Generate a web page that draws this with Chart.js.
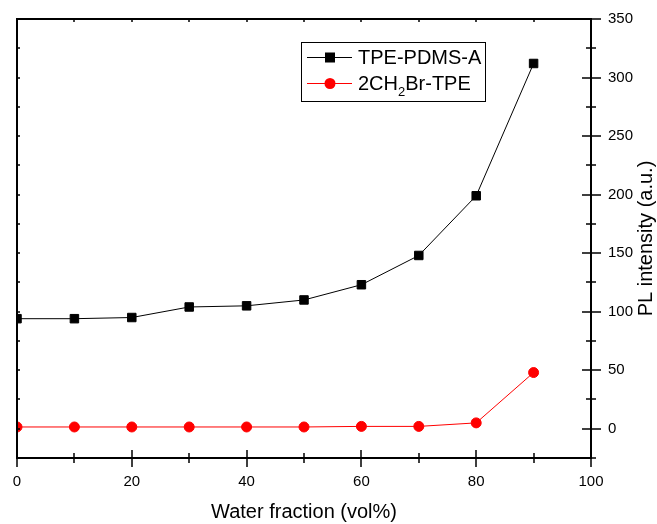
<!DOCTYPE html>
<html>
<head>
<meta charset="utf-8">
<script src="https://cdn.jsdelivr.net/npm/chart.js@4.4.1/dist/chart.umd.min.js"></script>
<style>
html,body{margin:0;padding:0;background:#fff;}
#wrap{width:657px;height:524px;position:relative;}
</style>
</head>
<body>
<div id="wrap"><canvas id="c" width="657" height="524"></canvas></div>
<script>
const waterFraction = [0, 10, 20, 30, 40, 50, 60, 70, 80, 90];
const tpePdmsA = [94, 94, 95, 104, 105, 110, 123, 148, 199, 312];
const ch2brTpe = [1.5, 1.5, 1.5, 1.5, 1.5, 1.5, 2, 2, 5, 48];
const xTicks = [0, 20, 40, 60, 80, 100];
const xMinorTicks = [10, 30, 50, 70, 90];
const yTicks = [0, 50, 100, 150, 200, 250, 300, 350];
const yMinorTicks = [-25, 25, 75, 125, 175, 225, 275, 325];
const seriesNames = ['TPE-PDMS-A', '2CH2Br-TPE'];
const xTitle = 'Water fraction (vol%)';
const yTitle = 'PL intensity (a.u.)';

const FONT = 'Arial, "Liberation Sans", sans-serif';

function pts(xs, ys){ return xs.map((x,i)=>({x:x, y:ys[i]})); }

const framePlugin = {
  id: 'frame',
  afterDraw(chart){
    const ctx = chart.ctx;
    const a = chart.chartArea;
    const xs = chart.scales.x, ys = chart.scales.y;
    ctx.save();
    ctx.strokeStyle = '#000';
    ctx.lineWidth = 2;
    ctx.strokeRect(a.left, a.top, a.right - a.left, a.bottom - a.top);
    ctx.lineWidth = 1.5;
    ctx.beginPath();
    xTicks.forEach(v=>{ const px = Math.round(xs.getPixelForValue(v)); ctx.moveTo(px, a.bottom-8); ctx.lineTo(px, a.bottom+9); });
    xMinorTicks.forEach(v=>{ const px = Math.round(xs.getPixelForValue(v)); ctx.moveTo(px, a.bottom-5); ctx.lineTo(px, a.bottom+5); });
    xTicks.concat(xMinorTicks).forEach(v=>{ const px = Math.round(xs.getPixelForValue(v)); ctx.moveTo(px, a.top); ctx.lineTo(px, a.top+3); });
    yTicks.forEach(v=>{ const py = Math.round(ys.getPixelForValue(v)); ctx.moveTo(a.right-9, py); ctx.lineTo(a.right+10, py); });
    yMinorTicks.forEach(v=>{ const py = Math.round(ys.getPixelForValue(v)); ctx.moveTo(a.right-5, py); ctx.lineTo(a.right+5, py); });
    yTicks.concat(yMinorTicks).forEach(v=>{ const py = Math.round(ys.getPixelForValue(v)); ctx.moveTo(a.left, py); ctx.lineTo(a.left+3, py); });
    ctx.stroke();

    // y title, reading bottom-to-top
    ctx.save();
    ctx.translate(646, (a.top + a.bottom) / 2);
    ctx.rotate(-Math.PI / 2);
    ctx.font = '20px ' + FONT;
    ctx.fillStyle = '#000';
    ctx.textAlign = 'center';
    ctx.textBaseline = 'middle';
    ctx.fillText(yTitle, 0, 0);
    ctx.restore();

    // legend
    const bx = 301, by = 42, bw = 184, bh = 59;
    ctx.lineWidth = 1;
    ctx.strokeStyle = '#000';
    ctx.fillStyle = '#fff';
    ctx.fillRect(bx, by, bw, bh);
    ctx.strokeRect(bx + 0.5, by + 0.5, bw, bh);
    const ds = chart.data.datasets;
    const rows = [57, 83];
    ctx.font = '20px ' + FONT;
    ctx.textBaseline = 'middle';
    ctx.textAlign = 'left';
    rows.forEach((ry, i)=>{
      const d = ds[i];
      ctx.strokeStyle = d.borderColor;
      ctx.lineWidth = 1;
      ctx.beginPath(); ctx.moveTo(307, ry + 0.5); ctx.lineTo(352, ry + 0.5); ctx.stroke();
      ctx.fillStyle = d.pointBackgroundColor;
      if (d.pointStyle === 'rect') {
        ctx.fillRect(325, ry - 4.5, 10, 10);
      } else {
        ctx.beginPath(); ctx.arc(330, ry + 0.5, 5.5, 0, Math.PI*2); ctx.fill();
      }
      ctx.fillStyle = '#000';
      if (i === 0) {
        ctx.fillText(seriesNames[0], 358, ry + 1);
      } else {
        let x = 358;
        const parts = ['2CH', 'Br-TPE'];
        ctx.fillText(parts[0], x, ry + 1);
        x += ctx.measureText(parts[0]).width;
        ctx.font = '13px ' + FONT;
        ctx.fillText('2', x, ry + 9);
        x += ctx.measureText('2').width;
        ctx.font = '20px ' + FONT;
        ctx.fillText(parts[1], x, ry + 1);
      }
    });
    ctx.restore();
  }
};

new Chart(document.getElementById('c'), {
  type: 'line',
  data: {
    datasets: [
      {
        label: seriesNames[0],
        data: pts(waterFraction, tpePdmsA),
        borderColor: '#000',
        backgroundColor: '#000',
        pointBackgroundColor: '#000',
        pointBorderColor: '#000',
        pointStyle: 'rect',
        pointRadius: 6,
        pointBorderWidth: 1,
        borderWidth: 1,
        tension: 0,
        clip: 0
      },
      {
        label: seriesNames[1],
        data: pts(waterFraction, ch2brTpe),
        borderColor: '#ff0000',
        backgroundColor: '#ff0000',
        pointBackgroundColor: '#ff0000',
        pointBorderColor: '#ff0000',
        pointStyle: 'circle',
        pointRadius: 5,
        pointBorderWidth: 1,
        borderWidth: 1,
        tension: 0,
        clip: 0
      }
    ]
  },
  options: {
    responsive: false,
    animation: false,
    devicePixelRatio: 1,
    layout: { padding: { left: 17, top: 19, right: 0, bottom: 0 } },
    plugins: { legend: { display: false }, tooltip: { enabled: false } },
    scales: {
      x: {
        type: 'linear', min: 0, max: 100,
        afterBuildTicks: s => { s.ticks = xTicks.map(v=>({value:v})); },
        afterFit: s => { s.height = 66; s.paddingLeft = 0; s.paddingRight = 0; },
        grid: { display: false, drawTicks: false },
        border: { display: false },
        ticks: { color: '#000', font: { family: FONT, size: 15 }, padding: 15, maxRotation: 0 },
        title: { display: true, text: xTitle, color: '#000', font: { family: FONT, size: 20 }, padding: 0 }
      },
      y: {
        type: 'linear', position: 'right', min: -25, max: 350,
        afterBuildTicks: s => { s.ticks = yTicks.map(v=>({value:v})); },
        afterFit: s => { s.width = 66; s.paddingTop = 0; s.paddingBottom = 0; },
        grid: { display: false, drawTicks: false },
        border: { display: false },
        ticks: { color: '#000', font: { family: FONT, size: 15 }, padding: 17 },
        title: { display: false }
      }
    }
  },
  plugins: [framePlugin]
});
</script>
</body>
</html>
